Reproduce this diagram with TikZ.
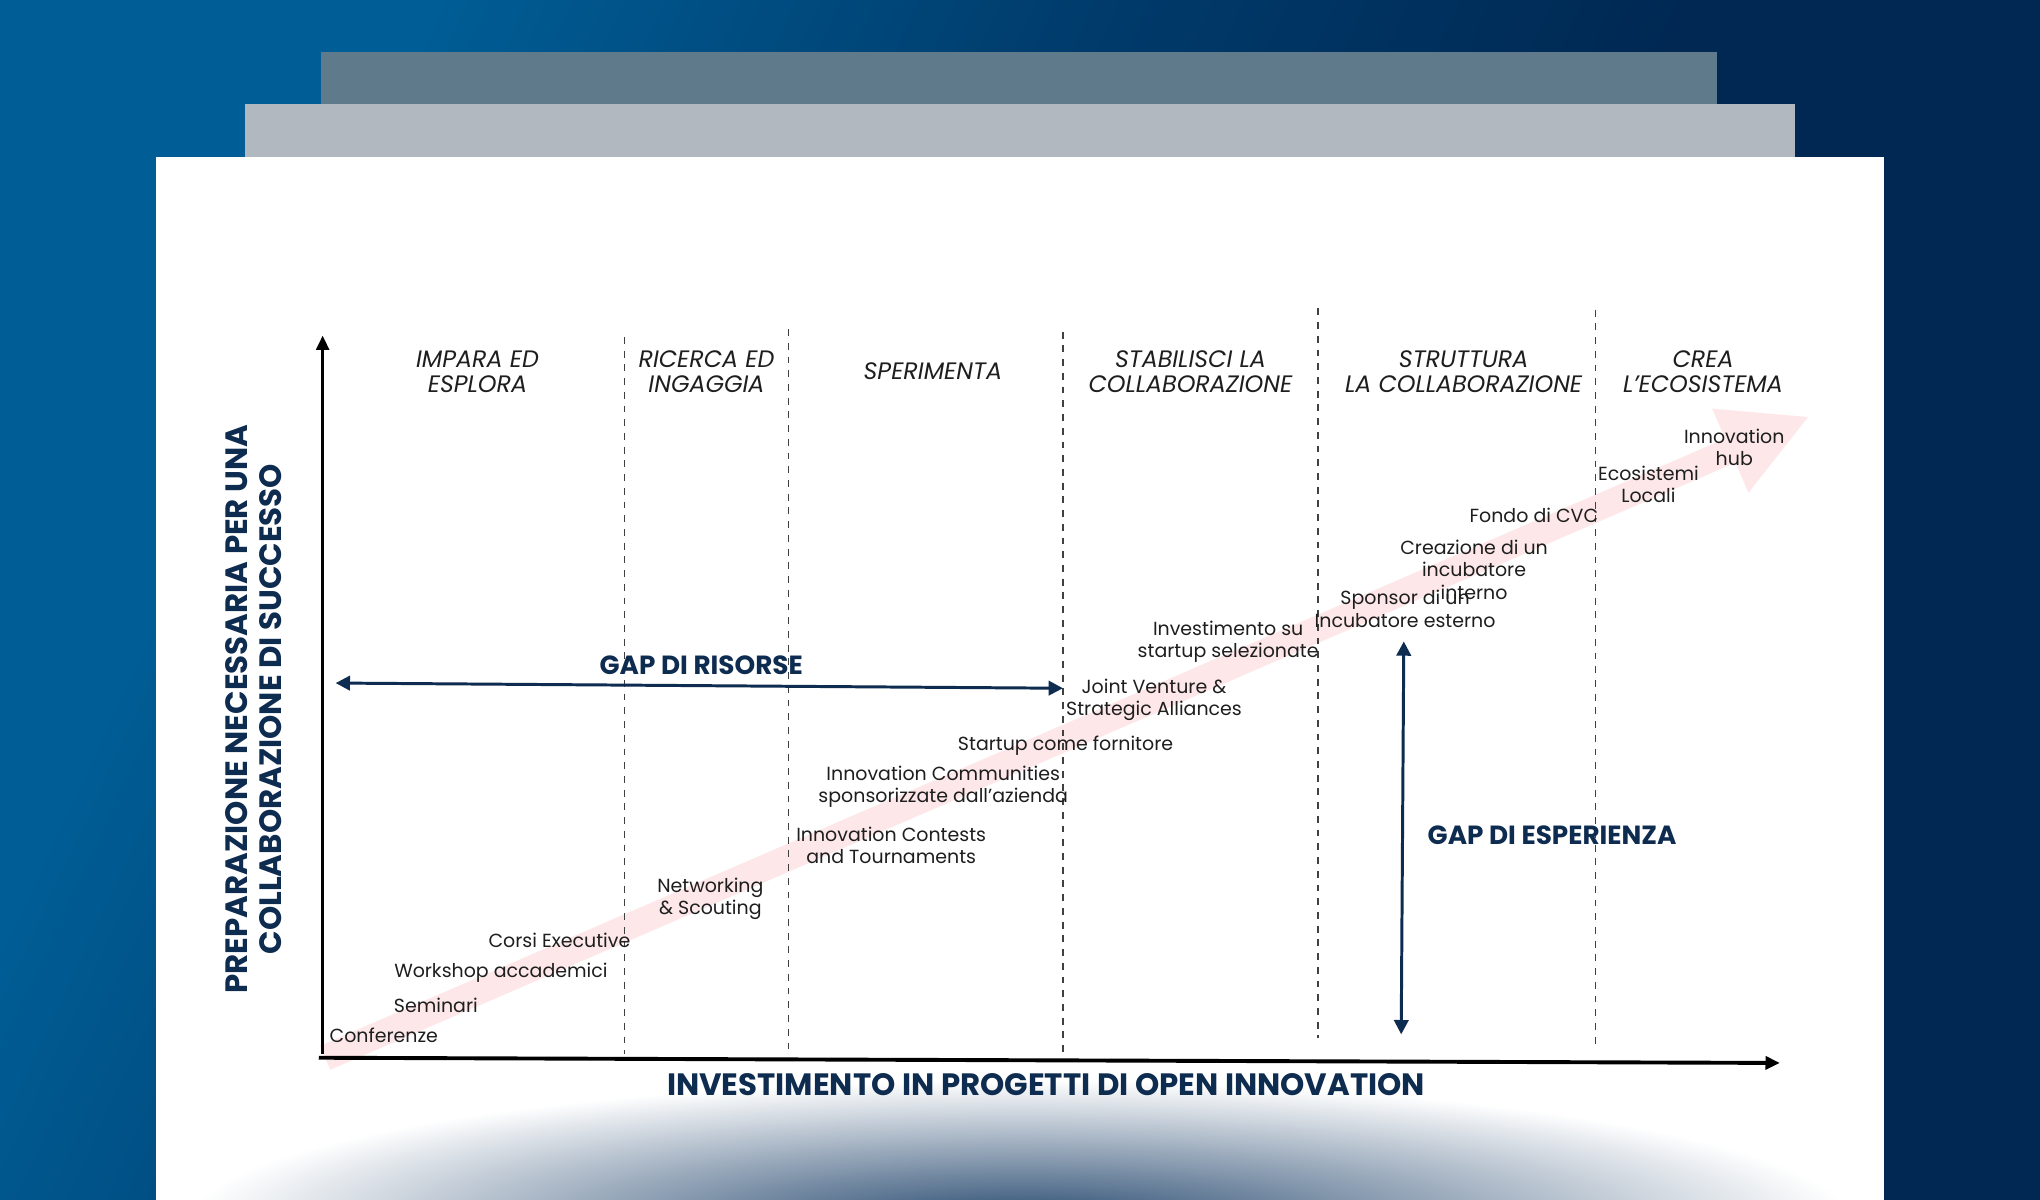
\documentclass[tikz,border=0pt]{standalone}
\usepackage{fontspec}
\setmainfont{Poppins}
\usetikzlibrary{arrows.meta}

\definecolor{bgLight}{HTML}{005D95}
\definecolor{bgMid}{HTML}{003B6B}
\definecolor{bgDark}{HTML}{002853}
\definecolor{sheetBack}{HTML}{5F7B8B}
\definecolor{sheetFront}{HTML}{B1B8BF}
\definecolor{glow}{HTML}{27496F}
\definecolor{navy}{HTML}{0E2B50}
\definecolor{trendpink}{HTML}{FDE7E8}
\definecolor{ink}{HTML}{1E1E1E}

\pgfdeclarehorizontalshading{backdrop}{100bp}{color(0bp)=(bgLight); color(28bp)=(bgLight); color(45bp)=(bgMid); color(60bp)=(bgDark); color(100bp)=(bgDark)}

\begin{document}
\begin{tikzpicture}[x=0.2mm, y=-0.2mm,
    phase/.style={font=\fontsize{10.4}{11}\selectfont\itshape, align=center, text=ink},
    item/.style={font=\fontsize{8.3}{9.7}\selectfont, align=center, text=ink, inner sep=0pt},
    gaplabel/.style={font=\fontsize{11.5}{13}\selectfont\bfseries, text=navy},
    axislabel/.style={font=\fontsize{13.5}{15}\selectfont\bfseries, text=navy, align=center},
    divider/.style={dashed, black!75, line width=0.5pt},
    gaparrow/.style={{Triangle[width=2.2mm,length=2.2mm]}-{Triangle[width=2.2mm,length=2.2mm]}, navy, line width=1.3pt},
    trend/.style={-{Triangle[width=13mm,length=13.3mm]}, line width=4mm, trendpink},
    axis/.style={-{Triangle[width=2mm,length=2.2mm]}, black}]

    % background and sheets
    \useasboundingbox (0,0) rectangle (1568,922);
    \shade[shading=backdrop, shading angle=-25] (0,0) rectangle (1568,922);
    \fill[sheetBack] (247,40) rectangle (1320,121);
    \fill[sheetFront] (188,80) rectangle (1380,121);
    \fill[white] (120,121) rectangle (1448,922);
    \begin{scope}
        \clip (120,121) rectangle (1448,922);
        \shade[inner color=glow, outer color=white] (784,940) ellipse [x radius=640, y radius=110];
    \end{scope}

    % trend arrow
    \coordinate (trendS) at (250,813);
    \coordinate (trendE) at (1391,320);
    \draw[trend] (trendS) -- (trendE);

    % phase dividers
    \foreach \x/\t/\b in {480/259/810, 606/253/810, 817/255/812, 1013/237/798, 1226/238/806}
        \draw[divider] (\x,\t) -- (\x,\b);

    % axes
    \coordinate (yBot) at (248,810);
    \coordinate (yTop) at (248,258);
    \coordinate (xL) at (245,813);
    \coordinate (xR) at (1368,817);
    \draw[axis, line width=0.4mm] (yBot) -- (yTop);
    \draw[axis, line width=0.6mm] (xL) -- (xR);
    \node[axislabel] (xlab) at (804,834) {INVESTIMENTO IN PROGETTI DI OPEN INNOVATION};
    \node[axislabel, rotate=90] (ylab) at (195,545) {PREPARAZIONE NECESSARIA PER UNA\\COLLABORAZIONE DI SUCCESSO};

    % phases
    \node[phase] (impara)    at (367,286)  {IMPARA ED\\ESPLORA};
    \node[phase] (ricerca)   at (543,286)  {RICERCA ED\\INGAGGIA};
    \node[phase] (speriment) at (717,285)  {SPERIMENTA};
    \node[phase] (stabil)    at (915,286)  {STABILISCI LA\\COLLABORAZIONE};
    \node[phase] (struttura) at (1125,286) {STRUTTURA\\LA COLLABORAZIONE};
    \node[phase] (crea)      at (1309,286) {CREA\\L’ECOSISTEMA};

    % activities
    \node[item] (conf)     at (295,796)  {Conferenze};
    \node[item] (semin)    at (335,773)  {Seminari};
    \node[item] (workshop) at (385,748)  {Workshop accademici};
    \node[item] (corsi)    at (430,723)  {Corsi Executive};
    \node[item] (network)  at (546,691)  {Networking\\\& Scouting};
    \node[item] (contests) at (685,650)  {Innovation Contests\\and Tournaments};
    \node[item] (communit) at (725,605)  {Innovation Communities\\sponsorizzate dall’azienda};
    \node[item] (fornit)   at (819,573)  {Startup come fornitore};
    \node[item] (joint)    at (887,538)  {Joint Venture \&\\Strategic Alliances};
    \node[item] (invest)   at (944,493)  {Investimento su\\startup selezionate};
    \node[item] (sponsor)  at (1080,468) {Sponsor di un\\Incubatore esterno};
    \node[item] (creaz)    at (1133,438) {Creazione di un\\incubatore\\interno};
    \node[item] (cvc)      at (1179,396) {Fondo di CVC};
    \node[item] (ecosist)  at (1267,372) {Ecosistemi\\Locali};
    \node[item] (hub)      at (1333,344) {Innovation\\hub};

    % gaps
    \coordinate (risL) at (258,525);
    \coordinate (risR) at (817,529);
    \draw[gaparrow] (risL) -- (risR);
    \node[gaplabel] (risorse) at (539,511) {GAP DI RISORSE};
    \coordinate (espT) at (1079,493);
    \coordinate (espB) at (1077,795);
    \draw[gaparrow] (espT) -- (espB);
    \node[gaplabel] (esperienza) at (1193,642) {GAP DI ESPERIENZA};
\end{tikzpicture}
\end{document}
